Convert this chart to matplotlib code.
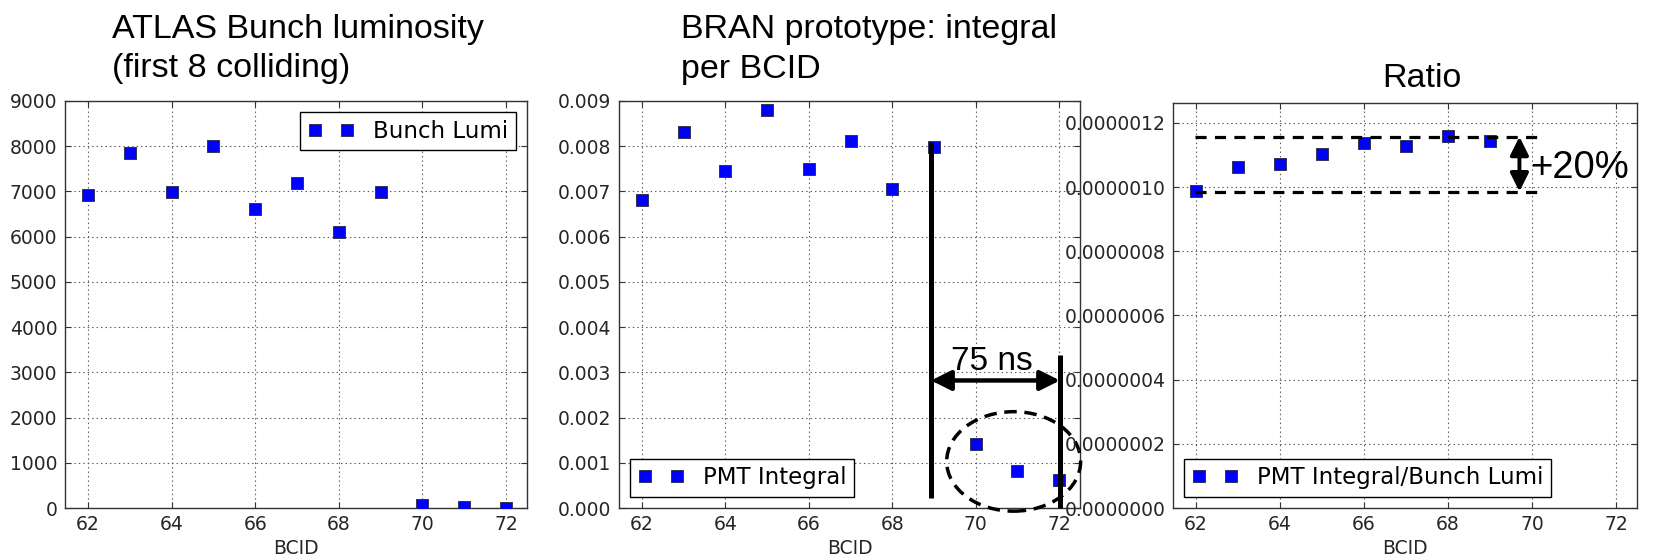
import matplotlib
matplotlib.use('Agg')
import matplotlib.pyplot as plt
from matplotlib.patches import Ellipse
from matplotlib.ticker import FormatStrFormatter, MultipleLocator

# ---------------- data ----------------
bcid = [62, 63, 64, 65, 66, 67, 68, 69, 70, 71, 72]
bunch_lumi = [6930, 7860, 6980, 8010, 6620, 7190, 6110, 6990, 60, 15, 10]
pmt_integral = [0.00682, 0.00832, 0.00746, 0.00881, 0.00749, 0.00811,
                0.00705, 0.00799, 0.00141, 0.00082, 0.00063]
ratio_bcid = [62, 63, 64, 65, 66, 67, 68, 69]
ratio = [0.987e-6, 1.062e-6, 1.072e-6, 1.102e-6, 1.137e-6, 1.127e-6,
         1.159e-6, 1.145e-6]

xticks = [62, 64, 66, 68, 70, 72]
titles1 = ["ATLAS Bunch luminosity", "(first 8 colliding)"]
titles2 = ["BRAN prototype: integral", "per BCID"]
title3 = "Ratio"
labels = ["Bunch Lumi", "PMT Integral", "PMT Integral/Bunch Lumi"]

plt.rcParams['lines.scale_dashes'] = False
plt.rcParams['font.family'] = ['DejaVu Sans']

W, H = 1661, 557
fig = plt.figure(figsize=(W / 100, H / 100), dpi=100)
fig.patch.set_facecolor('white')


def frac_rect(left, right, top, bottom):
    return [left / W, (H - bottom) / H, (right - left) / W, (bottom - top) / H]


ax1 = fig.add_axes(frac_rect(65, 527, 101, 508))
ax2 = fig.add_axes(frac_rect(619, 1080, 101, 508))
ax3 = fig.add_axes(frac_rect(1173, 1637, 103, 508))

marker_kw = dict(ls='none', marker='s', ms=8, mfc='#0000ff',
                 mec='#333355', mew=0.7, zorder=3)

ax1.plot(bcid, bunch_lumi, label=labels[0], **marker_kw)
ax2.plot(bcid, pmt_integral, label=labels[1], **marker_kw)
ax3.plot(ratio_bcid, ratio, label=labels[2], **marker_kw)

ax1.set_ylim(0, 9000)
ax1.yaxis.set_major_locator(MultipleLocator(1000))
ax1.yaxis.set_major_formatter(FormatStrFormatter('%d'))
ax2.set_ylim(0, 0.009)
ax2.yaxis.set_major_locator(MultipleLocator(0.001))
ax2.yaxis.set_major_formatter(FormatStrFormatter('%.3f'))
ax3.set_ylim(0, 1.262e-6)
ax3.yaxis.set_major_locator(MultipleLocator(2e-7))
ax3.yaxis.set_major_formatter(FormatStrFormatter('%.7f'))

for ax in (ax1, ax2, ax3):
    ax.set_xlim(61.45, 72.5)
    ax.set_xticks(xticks)
    ax.grid(True, color='0.35', lw=0.8, ls=(0, (1.0, 2.2)))
    ax.set_axisbelow(True)
    for s in ax.spines.values():
        s.set_linewidth(1.0)
        s.set_color('#333333')
    ax.tick_params(direction='in', top=True, right=True, length=4,
                   width=0.8, color='#333333', labelsize=13.5,
                   labelcolor='#262626')
    ax.tick_params(axis='x', pad=5)
    ax.tick_params(axis='y', pad=5.5)
    ax.set_xlabel('BCID', fontsize=13.5, color='#262626', labelpad=4)

leg_kw = dict(numpoints=2, fontsize=16.5, fancybox=False, framealpha=1,
              edgecolor='black', borderpad=0.32, handletextpad=0.85,
              borderaxespad=0.5, handlelength=2.0)
for ax, loc in ((ax1, 'upper right'), (ax2, 'lower left'), (ax3, 'lower left')):
    lg = ax.legend(loc=loc, **leg_kw)
    lg.get_frame().set_linewidth(1.0)
    lg.set_zorder(5)

# ---------------- titles ----------------
tfont = dict(family=['Liberation Sans', 'DejaVu Sans'], size=24.5,
             color='black', ha='left', va='baseline')
fig.text(112 / W, 1 - 38 / H, titles1[0], **tfont)
fig.text(112 / W, 1 - 77 / H, titles1[1], **tfont)
fig.text(681 / W, 1 - 38 / H, titles2[0], **tfont)
fig.text(681 / W, 1 - 78 / H, titles2[1], **tfont)
fig.text(1422 / W, 1 - 87 / H, title3, **{**tfont, 'ha': 'center'})

# ---------------- annotations: panel 2 ----------------
afont = dict(family=['Liberation Sans', 'DejaVu Sans'], color='black')
ax2.plot([68.93, 68.93], [0.00022, 0.00809], color='k', lw=3.6,
         solid_capstyle='butt', zorder=6, clip_on=False)
ax2.plot([72.02, 72.02], [0.0, 0.00339], color='k', lw=3.6,
         solid_capstyle='butt', zorder=6, clip_on=False)
ax2.annotate('', xy=(72.02, 0.00282), xytext=(68.93, 0.00282),
             arrowprops=dict(arrowstyle='<|-|>,head_length=1.2,head_width=0.6',
                             mutation_scale=10, lw=3.2, color='k',
                             shrinkA=0, shrinkB=0), zorder=6,
             annotation_clip=False)
ax2.text(69.4, 0.00306, '75 ns', fontsize=24, ha='left', va='baseline',
         zorder=6, **afont)
ax2.add_patch(Ellipse((70.91, 0.00103), width=3.21, height=0.0022,
                      fill=False, ec='k', lw=2.5, ls=(0, (9, 5.5)),
                      clip_on=False, zorder=6))

# ---------------- annotations: panel 3 ----------------
ratio_hi = 1.157e-6
ratio_lo = 0.986e-6
ax3.plot([61.98, 70.2], [ratio_hi, ratio_hi], color='k', lw=2.3,
         ls=(0, (8, 6)), zorder=6)
ax3.plot([61.98, 70.2], [ratio_lo, ratio_lo], color='k', lw=2.3,
         ls=(0, (8, 6)), zorder=6)
ax3.annotate('', xy=(69.7, ratio_hi), xytext=(69.7, ratio_lo),
             arrowprops=dict(arrowstyle='<|-|>,head_length=1.1,head_width=0.55',
                             mutation_scale=10, lw=2.8, color='k',
                             shrinkA=0, shrinkB=0), zorder=6)
ax3.text(69.95, 1.029e-6, '+20%', fontsize=27.5, ha='left', va='baseline',
         zorder=6, **afont)

fig.savefig('out.png', dpi=100, facecolor='white')
